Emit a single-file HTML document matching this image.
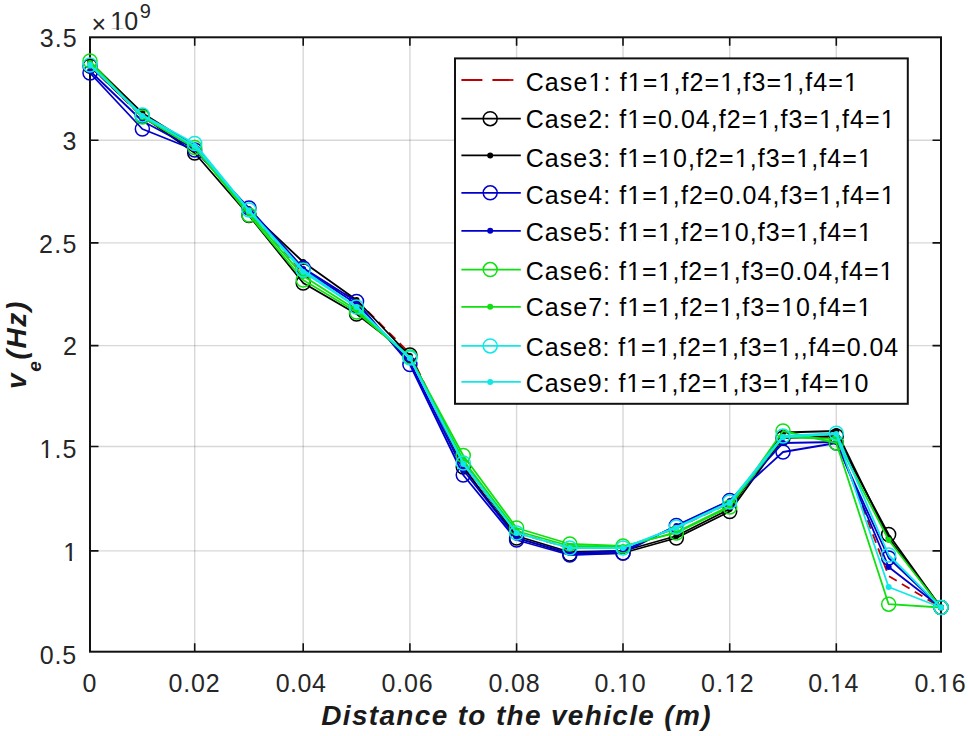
<!DOCTYPE html><html><head><meta charset="utf-8"><style>html,body{margin:0;padding:0;background:#fff;width:968px;height:736px;overflow:hidden}svg{display:block}text{font-family:"Liberation Sans",sans-serif}</style></head><body>
<svg width="968" height="736" viewBox="0 0 968 736">
<rect width="968" height="736" fill="#fff"/>
<path d="M194.7 37.3V651.7M303.2 37.3V651.7M409.9 37.3V651.7M516.6 37.3V651.7M623.0 37.3V651.7M729.7 37.3V651.7M836.3 37.3V651.7" stroke="#262626" stroke-opacity="0.18" stroke-width="1.4" fill="none"/>
<path d="M90.0 140.2H941.0M90.0 242.9H941.0M90.0 345.6H941.0M90.0 446.5H941.0M90.0 550.9H941.0" stroke="#262626" stroke-opacity="0.18" stroke-width="1.4" fill="none"/>
<path d="M194.7 651.7V643.2M194.7 37.3V45.8M303.2 651.7V643.2M303.2 37.3V45.8M409.9 651.7V643.2M409.9 37.3V45.8M516.6 651.7V643.2M516.6 37.3V45.8M623.0 651.7V643.2M623.0 37.3V45.8M729.7 651.7V643.2M729.7 37.3V45.8M836.3 651.7V643.2M836.3 37.3V45.8M90.0 140.2H98.5M941.0 140.2H932.5M90.0 242.9H98.5M941.0 242.9H932.5M90.0 345.6H98.5M941.0 345.6H932.5M90.0 446.5H98.5M941.0 446.5H932.5M90.0 550.9H98.5M941.0 550.9H932.5" stroke="#111" stroke-width="1.6" fill="none"/>
<rect x="90.0" y="37.3" width="851.0" height="614.4000000000001" fill="none" stroke="#111" stroke-width="2"/>
<polyline points="90.00,66.00 142.35,117.00 194.70,149.00 248.95,211.00 303.20,273.00 356.55,300.00 409.90,353.50 463.25,464.00 516.60,533.00 569.80,548.00 623.00,548.00 676.35,528.00 729.70,503.00 783.00,437.00 836.30,438.00 888.65,576.00 941.00,607.50" fill="none" stroke="#c00000" stroke-width="1.8" stroke-linejoin="round" stroke-dasharray="9,6"/>
<polyline points="90.00,66.00 142.35,116.00 194.70,153.00 248.95,215.50 303.20,283.00 356.55,314.00 409.90,355.00 463.25,467.00 516.60,538.00 569.80,554.00 623.00,553.00 676.35,538.00 729.70,511.50 783.00,438.00 836.30,436.00 888.65,534.50 941.00,607.50" fill="none" stroke="#000000" stroke-width="1.8" stroke-linejoin="round"/>
<circle cx="90.00" cy="66.00" r="7.0" fill="none" stroke="#000000" stroke-width="1.5"/>
<circle cx="142.35" cy="116.00" r="7.0" fill="none" stroke="#000000" stroke-width="1.5"/>
<circle cx="194.70" cy="153.00" r="7.0" fill="none" stroke="#000000" stroke-width="1.5"/>
<circle cx="248.95" cy="215.50" r="7.0" fill="none" stroke="#000000" stroke-width="1.5"/>
<circle cx="303.20" cy="283.00" r="7.0" fill="none" stroke="#000000" stroke-width="1.5"/>
<circle cx="356.55" cy="314.00" r="7.0" fill="none" stroke="#000000" stroke-width="1.5"/>
<circle cx="409.90" cy="355.00" r="7.0" fill="none" stroke="#000000" stroke-width="1.5"/>
<circle cx="463.25" cy="467.00" r="7.0" fill="none" stroke="#000000" stroke-width="1.5"/>
<circle cx="516.60" cy="538.00" r="7.0" fill="none" stroke="#000000" stroke-width="1.5"/>
<circle cx="569.80" cy="554.00" r="7.0" fill="none" stroke="#000000" stroke-width="1.5"/>
<circle cx="623.00" cy="553.00" r="7.0" fill="none" stroke="#000000" stroke-width="1.5"/>
<circle cx="676.35" cy="538.00" r="7.0" fill="none" stroke="#000000" stroke-width="1.5"/>
<circle cx="729.70" cy="511.50" r="7.0" fill="none" stroke="#000000" stroke-width="1.5"/>
<circle cx="783.00" cy="438.00" r="7.0" fill="none" stroke="#000000" stroke-width="1.5"/>
<circle cx="836.30" cy="436.00" r="7.0" fill="none" stroke="#000000" stroke-width="1.5"/>
<circle cx="888.65" cy="534.50" r="7.0" fill="none" stroke="#000000" stroke-width="1.5"/>
<circle cx="941.00" cy="607.50" r="7.0" fill="none" stroke="#000000" stroke-width="1.5"/>
<polyline points="90.00,62.00 142.35,113.00 194.70,146.00 248.95,211.00 303.20,262.00 356.55,300.00 409.90,356.00 463.25,462.00 516.60,536.00 569.80,552.00 623.00,551.00 676.35,536.00 729.70,509.00 783.00,432.50 836.30,431.00 888.65,538.00 941.00,607.50" fill="none" stroke="#000000" stroke-width="1.8" stroke-linejoin="round"/>
<circle cx="90.00" cy="62.00" r="3.0" fill="#000000"/>
<circle cx="142.35" cy="113.00" r="3.0" fill="#000000"/>
<circle cx="194.70" cy="146.00" r="3.0" fill="#000000"/>
<circle cx="248.95" cy="211.00" r="3.0" fill="#000000"/>
<circle cx="303.20" cy="262.00" r="3.0" fill="#000000"/>
<circle cx="356.55" cy="300.00" r="3.0" fill="#000000"/>
<circle cx="409.90" cy="356.00" r="3.0" fill="#000000"/>
<circle cx="463.25" cy="462.00" r="3.0" fill="#000000"/>
<circle cx="516.60" cy="536.00" r="3.0" fill="#000000"/>
<circle cx="569.80" cy="552.00" r="3.0" fill="#000000"/>
<circle cx="623.00" cy="551.00" r="3.0" fill="#000000"/>
<circle cx="676.35" cy="536.00" r="3.0" fill="#000000"/>
<circle cx="729.70" cy="509.00" r="3.0" fill="#000000"/>
<circle cx="783.00" cy="432.50" r="3.0" fill="#000000"/>
<circle cx="836.30" cy="431.00" r="3.0" fill="#000000"/>
<circle cx="888.65" cy="538.00" r="3.0" fill="#000000"/>
<circle cx="941.00" cy="607.50" r="3.0" fill="#000000"/>
<polyline points="90.00,73.00 142.35,129.00 194.70,150.00 248.95,208.00 303.20,268.00 356.55,301.50 409.90,364.50 463.25,475.00 516.60,540.00 569.80,555.00 623.00,553.00 676.35,525.50 729.70,500.50 783.00,452.00 836.30,443.00 888.65,558.00 941.00,607.50" fill="none" stroke="#0000cc" stroke-width="1.8" stroke-linejoin="round"/>
<circle cx="90.00" cy="73.00" r="7.0" fill="none" stroke="#0000cc" stroke-width="1.5"/>
<circle cx="142.35" cy="129.00" r="7.0" fill="none" stroke="#0000cc" stroke-width="1.5"/>
<circle cx="194.70" cy="150.00" r="7.0" fill="none" stroke="#0000cc" stroke-width="1.5"/>
<circle cx="248.95" cy="208.00" r="7.0" fill="none" stroke="#0000cc" stroke-width="1.5"/>
<circle cx="303.20" cy="268.00" r="7.0" fill="none" stroke="#0000cc" stroke-width="1.5"/>
<circle cx="356.55" cy="301.50" r="7.0" fill="none" stroke="#0000cc" stroke-width="1.5"/>
<circle cx="409.90" cy="364.50" r="7.0" fill="none" stroke="#0000cc" stroke-width="1.5"/>
<circle cx="463.25" cy="475.00" r="7.0" fill="none" stroke="#0000cc" stroke-width="1.5"/>
<circle cx="516.60" cy="540.00" r="7.0" fill="none" stroke="#0000cc" stroke-width="1.5"/>
<circle cx="569.80" cy="555.00" r="7.0" fill="none" stroke="#0000cc" stroke-width="1.5"/>
<circle cx="623.00" cy="553.00" r="7.0" fill="none" stroke="#0000cc" stroke-width="1.5"/>
<circle cx="676.35" cy="525.50" r="7.0" fill="none" stroke="#0000cc" stroke-width="1.5"/>
<circle cx="729.70" cy="500.50" r="7.0" fill="none" stroke="#0000cc" stroke-width="1.5"/>
<circle cx="783.00" cy="452.00" r="7.0" fill="none" stroke="#0000cc" stroke-width="1.5"/>
<circle cx="836.30" cy="443.00" r="7.0" fill="none" stroke="#0000cc" stroke-width="1.5"/>
<circle cx="888.65" cy="558.00" r="7.0" fill="none" stroke="#0000cc" stroke-width="1.5"/>
<circle cx="941.00" cy="607.50" r="7.0" fill="none" stroke="#0000cc" stroke-width="1.5"/>
<polyline points="90.00,71.00 142.35,121.00 194.70,149.00 248.95,209.00 303.20,269.00 356.55,304.00 409.90,362.00 463.25,470.00 516.60,538.00 569.80,553.00 623.00,551.00 676.35,526.00 729.70,501.00 783.00,443.00 836.30,442.00 888.65,567.00 941.00,607.50" fill="none" stroke="#0000cc" stroke-width="1.8" stroke-linejoin="round"/>
<circle cx="90.00" cy="71.00" r="3.0" fill="#0000cc"/>
<circle cx="142.35" cy="121.00" r="3.0" fill="#0000cc"/>
<circle cx="194.70" cy="149.00" r="3.0" fill="#0000cc"/>
<circle cx="248.95" cy="209.00" r="3.0" fill="#0000cc"/>
<circle cx="303.20" cy="269.00" r="3.0" fill="#0000cc"/>
<circle cx="356.55" cy="304.00" r="3.0" fill="#0000cc"/>
<circle cx="409.90" cy="362.00" r="3.0" fill="#0000cc"/>
<circle cx="463.25" cy="470.00" r="3.0" fill="#0000cc"/>
<circle cx="516.60" cy="538.00" r="3.0" fill="#0000cc"/>
<circle cx="569.80" cy="553.00" r="3.0" fill="#0000cc"/>
<circle cx="623.00" cy="551.00" r="3.0" fill="#0000cc"/>
<circle cx="676.35" cy="526.00" r="3.0" fill="#0000cc"/>
<circle cx="729.70" cy="501.00" r="3.0" fill="#0000cc"/>
<circle cx="783.00" cy="443.00" r="3.0" fill="#0000cc"/>
<circle cx="836.30" cy="442.00" r="3.0" fill="#0000cc"/>
<circle cx="888.65" cy="567.00" r="3.0" fill="#0000cc"/>
<circle cx="941.00" cy="607.50" r="3.0" fill="#0000cc"/>
<polyline points="90.00,61.00 142.35,117.00 194.70,147.50 248.95,215.00 303.20,280.00 356.55,312.00 409.90,357.00 463.25,455.50 516.60,528.00 569.80,544.00 623.00,546.00 676.35,533.00 729.70,507.00 783.00,431.00 836.30,443.00 888.65,604.20 941.00,607.50" fill="none" stroke="#10e010" stroke-width="1.8" stroke-linejoin="round"/>
<circle cx="90.00" cy="61.00" r="7.0" fill="none" stroke="#10e010" stroke-width="1.5"/>
<circle cx="142.35" cy="117.00" r="7.0" fill="none" stroke="#10e010" stroke-width="1.5"/>
<circle cx="194.70" cy="147.50" r="7.0" fill="none" stroke="#10e010" stroke-width="1.5"/>
<circle cx="248.95" cy="215.00" r="7.0" fill="none" stroke="#10e010" stroke-width="1.5"/>
<circle cx="303.20" cy="280.00" r="7.0" fill="none" stroke="#10e010" stroke-width="1.5"/>
<circle cx="356.55" cy="312.00" r="7.0" fill="none" stroke="#10e010" stroke-width="1.5"/>
<circle cx="409.90" cy="357.00" r="7.0" fill="none" stroke="#10e010" stroke-width="1.5"/>
<circle cx="463.25" cy="455.50" r="7.0" fill="none" stroke="#10e010" stroke-width="1.5"/>
<circle cx="516.60" cy="528.00" r="7.0" fill="none" stroke="#10e010" stroke-width="1.5"/>
<circle cx="569.80" cy="544.00" r="7.0" fill="none" stroke="#10e010" stroke-width="1.5"/>
<circle cx="623.00" cy="546.00" r="7.0" fill="none" stroke="#10e010" stroke-width="1.5"/>
<circle cx="676.35" cy="533.00" r="7.0" fill="none" stroke="#10e010" stroke-width="1.5"/>
<circle cx="729.70" cy="507.00" r="7.0" fill="none" stroke="#10e010" stroke-width="1.5"/>
<circle cx="783.00" cy="431.00" r="7.0" fill="none" stroke="#10e010" stroke-width="1.5"/>
<circle cx="836.30" cy="443.00" r="7.0" fill="none" stroke="#10e010" stroke-width="1.5"/>
<circle cx="888.65" cy="604.20" r="7.0" fill="none" stroke="#10e010" stroke-width="1.5"/>
<circle cx="941.00" cy="607.50" r="7.0" fill="none" stroke="#10e010" stroke-width="1.5"/>
<polyline points="90.00,63.00 142.35,117.00 194.70,148.00 248.95,213.00 303.20,276.00 356.55,310.00 409.90,358.00 463.25,460.00 516.60,531.00 569.80,546.00 623.00,547.00 676.35,532.00 729.70,506.00 783.00,437.00 836.30,439.00 888.65,540.00 941.00,607.50" fill="none" stroke="#10e010" stroke-width="1.8" stroke-linejoin="round"/>
<circle cx="90.00" cy="63.00" r="3.0" fill="#10e010"/>
<circle cx="142.35" cy="117.00" r="3.0" fill="#10e010"/>
<circle cx="194.70" cy="148.00" r="3.0" fill="#10e010"/>
<circle cx="248.95" cy="213.00" r="3.0" fill="#10e010"/>
<circle cx="303.20" cy="276.00" r="3.0" fill="#10e010"/>
<circle cx="356.55" cy="310.00" r="3.0" fill="#10e010"/>
<circle cx="409.90" cy="358.00" r="3.0" fill="#10e010"/>
<circle cx="463.25" cy="460.00" r="3.0" fill="#10e010"/>
<circle cx="516.60" cy="531.00" r="3.0" fill="#10e010"/>
<circle cx="569.80" cy="546.00" r="3.0" fill="#10e010"/>
<circle cx="623.00" cy="547.00" r="3.0" fill="#10e010"/>
<circle cx="676.35" cy="532.00" r="3.0" fill="#10e010"/>
<circle cx="729.70" cy="506.00" r="3.0" fill="#10e010"/>
<circle cx="783.00" cy="437.00" r="3.0" fill="#10e010"/>
<circle cx="836.30" cy="439.00" r="3.0" fill="#10e010"/>
<circle cx="888.65" cy="540.00" r="3.0" fill="#10e010"/>
<circle cx="941.00" cy="607.50" r="3.0" fill="#10e010"/>
<polyline points="90.00,65.00 142.35,115.00 194.70,143.50 248.95,210.00 303.20,270.00 356.55,307.00 409.90,358.00 463.25,463.00 516.60,533.00 569.80,548.00 623.00,548.00 676.35,527.00 729.70,502.00 783.00,436.00 836.30,433.20 888.65,555.00 941.00,607.50" fill="none" stroke="#10e8e8" stroke-width="1.8" stroke-linejoin="round"/>
<circle cx="90.00" cy="65.00" r="7.0" fill="none" stroke="#10e8e8" stroke-width="1.5"/>
<circle cx="142.35" cy="115.00" r="7.0" fill="none" stroke="#10e8e8" stroke-width="1.5"/>
<circle cx="194.70" cy="143.50" r="7.0" fill="none" stroke="#10e8e8" stroke-width="1.5"/>
<circle cx="248.95" cy="210.00" r="7.0" fill="none" stroke="#10e8e8" stroke-width="1.5"/>
<circle cx="303.20" cy="270.00" r="7.0" fill="none" stroke="#10e8e8" stroke-width="1.5"/>
<circle cx="356.55" cy="307.00" r="7.0" fill="none" stroke="#10e8e8" stroke-width="1.5"/>
<circle cx="409.90" cy="358.00" r="7.0" fill="none" stroke="#10e8e8" stroke-width="1.5"/>
<circle cx="463.25" cy="463.00" r="7.0" fill="none" stroke="#10e8e8" stroke-width="1.5"/>
<circle cx="516.60" cy="533.00" r="7.0" fill="none" stroke="#10e8e8" stroke-width="1.5"/>
<circle cx="569.80" cy="548.00" r="7.0" fill="none" stroke="#10e8e8" stroke-width="1.5"/>
<circle cx="623.00" cy="548.00" r="7.0" fill="none" stroke="#10e8e8" stroke-width="1.5"/>
<circle cx="676.35" cy="527.00" r="7.0" fill="none" stroke="#10e8e8" stroke-width="1.5"/>
<circle cx="729.70" cy="502.00" r="7.0" fill="none" stroke="#10e8e8" stroke-width="1.5"/>
<circle cx="783.00" cy="436.00" r="7.0" fill="none" stroke="#10e8e8" stroke-width="1.5"/>
<circle cx="836.30" cy="433.20" r="7.0" fill="none" stroke="#10e8e8" stroke-width="1.5"/>
<circle cx="888.65" cy="555.00" r="7.0" fill="none" stroke="#10e8e8" stroke-width="1.5"/>
<circle cx="941.00" cy="607.50" r="7.0" fill="none" stroke="#10e8e8" stroke-width="1.5"/>
<polyline points="90.00,65.00 142.35,116.00 194.70,146.00 248.95,211.00 303.20,272.00 356.55,307.00 409.90,358.00 463.25,464.00 516.60,533.00 569.80,548.00 623.00,548.00 676.35,528.00 729.70,503.00 783.00,437.00 836.30,434.00 888.65,587.00 941.00,607.50" fill="none" stroke="#10e8e8" stroke-width="1.8" stroke-linejoin="round"/>
<circle cx="90.00" cy="65.00" r="3.0" fill="#10e8e8"/>
<circle cx="142.35" cy="116.00" r="3.0" fill="#10e8e8"/>
<circle cx="194.70" cy="146.00" r="3.0" fill="#10e8e8"/>
<circle cx="248.95" cy="211.00" r="3.0" fill="#10e8e8"/>
<circle cx="303.20" cy="272.00" r="3.0" fill="#10e8e8"/>
<circle cx="356.55" cy="307.00" r="3.0" fill="#10e8e8"/>
<circle cx="409.90" cy="358.00" r="3.0" fill="#10e8e8"/>
<circle cx="463.25" cy="464.00" r="3.0" fill="#10e8e8"/>
<circle cx="516.60" cy="533.00" r="3.0" fill="#10e8e8"/>
<circle cx="569.80" cy="548.00" r="3.0" fill="#10e8e8"/>
<circle cx="623.00" cy="548.00" r="3.0" fill="#10e8e8"/>
<circle cx="676.35" cy="528.00" r="3.0" fill="#10e8e8"/>
<circle cx="729.70" cy="503.00" r="3.0" fill="#10e8e8"/>
<circle cx="783.00" cy="437.00" r="3.0" fill="#10e8e8"/>
<circle cx="836.30" cy="434.00" r="3.0" fill="#10e8e8"/>
<circle cx="888.65" cy="587.00" r="3.0" fill="#10e8e8"/>
<circle cx="941.00" cy="607.50" r="3.0" fill="#10e8e8"/>
<text x="89.50" y="692.00" font-size="25" text-anchor="middle" fill="#262626">0</text>
<text x="194.50" y="692.00" font-size="25" text-anchor="middle" fill="#262626" letter-spacing="0.867">0.02</text>
<text x="301.00" y="692.00" font-size="25" text-anchor="middle" fill="#262626" letter-spacing="0.467">0.04</text>
<text x="407.45" y="692.00" font-size="25" text-anchor="middle" fill="#262626" letter-spacing="0.800">0.06</text>
<text x="514.50" y="692.00" font-size="25" text-anchor="middle" fill="#262626" letter-spacing="0.867">0.08</text>
<text x="620.50" y="692.00" font-size="25" text-anchor="middle" fill="#262626" letter-spacing="0.800">0.10</text>
<text x="727.95" y="692.00" font-size="25" text-anchor="middle" fill="#262626" letter-spacing="1.267">0.12</text>
<text x="833.55" y="692.00" font-size="25" text-anchor="middle" fill="#262626" letter-spacing="0.533">0.14</text>
<text x="940.55" y="692.00" font-size="25" text-anchor="middle" fill="#262626" letter-spacing="0.867">0.16</text>
<text x="77.60" y="47.05" font-size="25" text-anchor="end" fill="#262626" letter-spacing="1.000">3.5</text>
<text x="76.50" y="150.00" font-size="25" text-anchor="end" fill="#262626">3</text>
<text x="77.60" y="253.00" font-size="25" text-anchor="end" fill="#262626" letter-spacing="1.300">2.5</text>
<text x="76.80" y="355.00" font-size="25" text-anchor="end" fill="#262626">2</text>
<text x="77.60" y="458.00" font-size="25" text-anchor="end" fill="#262626" letter-spacing="1.100">1.5</text>
<text x="77.18" y="561.00" font-size="25" text-anchor="end" fill="#262626">1</text>
<text x="77.00" y="663.95" font-size="25" text-anchor="end" fill="#262626" letter-spacing="0.800">0.5</text>
<text x="91.40" y="33.40" font-size="25" text-anchor="start" fill="#262626">×</text>
<text x="110.30" y="30.40" font-size="25" text-anchor="start" fill="#262626">10</text>
<text x="139.70" y="17.85" font-size="20" text-anchor="start" fill="#262626">9</text>
<text x="516.55" y="724.90" font-size="28" text-anchor="middle" fill="#1a1a1a" letter-spacing="1.327"><tspan font-weight="bold" font-style="italic">Distance to the vehicle (m)</tspan></text>
<text transform="translate(26.00,388.90) rotate(-90)" font-size="28" font-weight="bold" font-style="italic" fill="#1a1a1a" letter-spacing="1.640">v<tspan font-size="19" dy="15">e</tspan><tspan dy="-15">(Hz)</tspan></text>
<rect x="455.0" y="58.4" width="452.79999999999995" height="345.40000000000003" fill="#fff" stroke="#111" stroke-width="2"/>
<line x1="461.4" y1="80.0" x2="520.8" y2="80.0" stroke="#c00000" stroke-width="1.8" stroke-dasharray="21,10"/>
<text x="525.70" y="91.00" font-size="25" text-anchor="start" fill="#000" letter-spacing="1.112">Case1: f1=1,f2=1,f3=1,f4=1</text>
<line x1="461.4" y1="118.7" x2="520.8" y2="118.7" stroke="#000000" stroke-width="1.8"/>
<circle cx="490.2" cy="118.7" r="7.0" fill="none" stroke="#000000" stroke-width="1.5"/>
<text x="525.70" y="128.00" font-size="25" text-anchor="start" fill="#000" letter-spacing="1.061">Case2: f1=0.04,f2=1,f3=1,f4=1</text>
<line x1="461.4" y1="155.4" x2="520.8" y2="155.4" stroke="#000000" stroke-width="1.8"/>
<circle cx="490.2" cy="155.4" r="3.0" fill="#000000"/>
<text x="525.70" y="167.00" font-size="25" text-anchor="start" fill="#000" letter-spacing="1.073">Case3: f1=10,f2=1,f3=1,f4=1</text>
<line x1="461.4" y1="192.8" x2="520.8" y2="192.8" stroke="#0000cc" stroke-width="1.8"/>
<circle cx="490.2" cy="192.8" r="7.0" fill="none" stroke="#0000cc" stroke-width="1.5"/>
<text x="525.70" y="204.00" font-size="25" text-anchor="start" fill="#000" letter-spacing="1.061">Case4: f1=1,f2=0.04,f3=1,f4=1</text>
<line x1="461.4" y1="230.8" x2="520.8" y2="230.8" stroke="#0000cc" stroke-width="1.8"/>
<circle cx="490.2" cy="230.8" r="3.0" fill="#0000cc"/>
<text x="525.70" y="241.00" font-size="25" text-anchor="start" fill="#000" letter-spacing="1.073">Case5: f1=1,f2=10,f3=1,f4=1</text>
<line x1="461.4" y1="269.6" x2="520.8" y2="269.6" stroke="#10e010" stroke-width="1.8"/>
<circle cx="490.2" cy="269.6" r="7.0" fill="none" stroke="#10e010" stroke-width="1.5"/>
<text x="525.70" y="280.00" font-size="25" text-anchor="start" fill="#000" letter-spacing="1.021">Case6: f1=1,f2=1,f3=0.04,f4=1</text>
<line x1="461.4" y1="306.8" x2="520.8" y2="306.8" stroke="#10e010" stroke-width="1.8"/>
<circle cx="490.2" cy="306.8" r="3.0" fill="#10e010"/>
<text x="525.70" y="316.00" font-size="25" text-anchor="start" fill="#000" letter-spacing="1.054">Case7: f1=1,f2=1,f3=10,f4=1</text>
<line x1="461.4" y1="345.9" x2="520.8" y2="345.9" stroke="#10e8e8" stroke-width="1.8"/>
<circle cx="490.2" cy="345.9" r="7.0" fill="none" stroke="#10e8e8" stroke-width="1.5"/>
<text x="525.70" y="356.00" font-size="25" text-anchor="start" fill="#000" letter-spacing="0.910">Case8: f1=1,f2=1,f3=1,,f4=0.04</text>
<line x1="461.4" y1="381.9" x2="520.8" y2="381.9" stroke="#10e8e8" stroke-width="1.8"/>
<circle cx="490.2" cy="381.9" r="3.0" fill="#10e8e8"/>
<text x="525.70" y="392.00" font-size="25" text-anchor="start" fill="#000" letter-spacing="0.935">Case9: f1=1,f2=1,f3=1,f4=10</text>
</svg>
<script>
(function(){
  var svg=document.querySelector("svg");
  var NS=svg.namespaceURI;
  var ts=svg.querySelectorAll("text");
  for(var k=0;k<ts.length;k++){
    var t=ts[k];
    if(t.children.length) continue;
    var s=t.textContent, fs=parseFloat(t.getAttribute("font-size"));
    for(var i=0;i<s.length;i++){
      if(s[i]!=="1") continue;
      var p=t.getStartPositionOfChar(i), u=fs/2048;
      var segs=[[105,508],[704,1095]];
      for(var j=0;j<2;j++){
        var r=document.createElementNS(NS,"rect");
        r.setAttribute("x",p.x+segs[j][0]*u);
        r.setAttribute("y",p.y-175*u);
        r.setAttribute("width",(segs[j][1]-segs[j][0])*u);
        r.setAttribute("height",175*u+0.7);
        r.setAttribute("fill","#fff");
        t.parentNode.insertBefore(r,t.nextSibling);
      }
    }
  }
})();
</script>
</body></html>
